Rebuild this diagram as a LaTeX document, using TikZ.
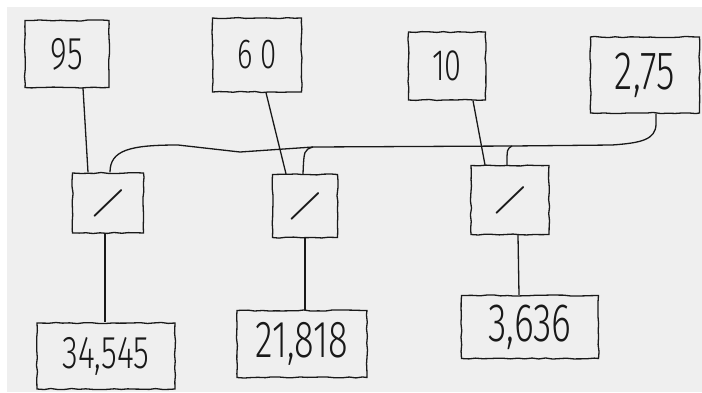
\documentclass[tikz,border=0pt]{standalone}
\usepackage{fontspec}
\newfontfamily\handfont{Fira Sans Light}[FakeStretch=0.7]
\usetikzlibrary{decorations.pathmorphing}
\definecolor{paper}{RGB}{239,239,239}
\definecolor{ink}{RGB}{25,25,25}

\begin{document}
\begin{tikzpicture}[x=1pt, y=-1pt, line width=1.3pt, color=ink,
    box/.style={draw, rectangle, inner sep=0pt, decorate,
        decoration={random steps, segment length=7pt, amplitude=0.6pt}},
    num/.style={font=\handfont\fontsize{#1}{#1}\selectfont},
    divop/.style={font=\normalfont\bfseries\fontsize{36}{36}\selectfont}]
    % sheet
    \fill[white] (0,0) rectangle (702,392);
    \fill[paper] (7,7) rectangle (702,392);
    \useasboundingbox (0,0) rectangle (702,392);

    % inputs
    \node[box, num=46, minimum width=84pt, minimum height=67pt] (n95) at (67,54) {95};
    \node[box, num=42, minimum width=89pt, minimum height=74pt] (n60) at (257,55) {6\,0};
    \node[box, num=44, minimum width=77pt, minimum height=68pt] (n10) at (447,66) {10};
    \node[box, num=54, minimum width=109pt, minimum height=76pt] (n275) at (645,75) {2,75};

    % division steps
    \node[box, divop, minimum width=71pt, minimum height=60pt] (d1) at (108,203) {\rotatebox{-24}{/}};
    \node[box, divop, minimum width=65pt, minimum height=63pt] (d2) at (305,206) {\rotatebox{-24}{/}};
    \node[box, divop, minimum width=78pt, minimum height=69pt] (d3) at (510,200) {\rotatebox{-24}{/}};

    % results
    \node[box, num=46, minimum width=138pt, minimum height=66pt] (r1) at (106,356) {34,545};
    \node[box, num=52, minimum width=130pt, minimum height=67pt] (r2) at (302,344) {21,818};
    \node[box, num=54, minimum width=137pt, minimum height=63pt] (r3) at (530,327) {3,636};

    % dividend lines
    \draw ([xshift=16pt]n95.south) -- ([xshift=-20pt]d1.north);
    \draw ([xshift=9pt]n60.south) -- ([xshift=-19pt]d2.north);
    \draw ([xshift=26pt]n10.south) -- ([xshift=-25pt]d3.north);

    % divisor bus
    \coordinate (j1) at (313,147);
    \coordinate (j2) at (512,146);
    \draw ([xshift=11pt]n275.south) -- (656,124) .. controls (656,140) and (640,143) .. (612,145)
        -- (j2) -- (j1) -- (240,152) -- (178,145) .. controls (130,145) and (110,150) .. ([xshift=2pt]d1.north);
    \draw (j1) .. controls (304,150) .. ([xshift=-2pt]d2.north);
    \draw (j2) .. controls (507,149) .. ([xshift=-3pt]d3.north);

    % quotient lines
    \draw ([xshift=-3pt]d1.south) -- ([xshift=-1pt]r1.north);
    \draw (d2.south) -- ([xshift=3pt]r2.north);
    \draw ([xshift=8pt]d3.south) -- ([xshift=-11pt]r3.north);
\end{tikzpicture}
\end{document}
